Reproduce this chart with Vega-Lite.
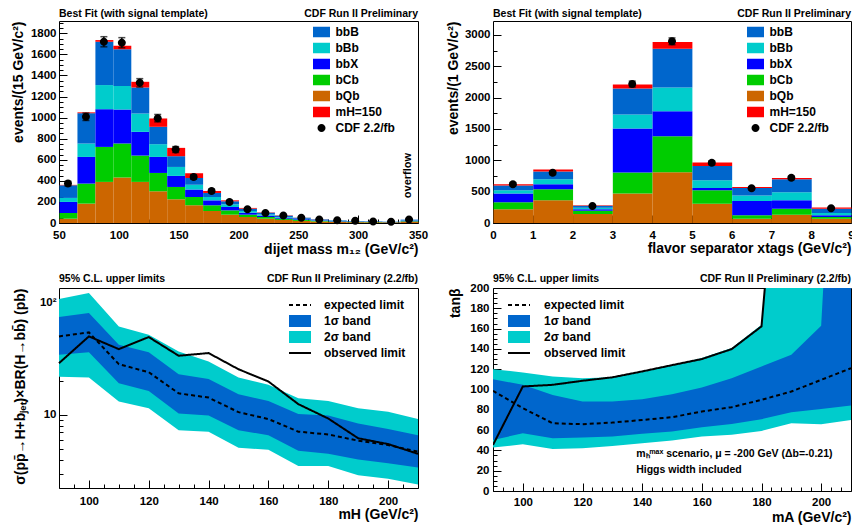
{
  "$schema": "https://vega.github.io/schema/vega-lite/v6.json",
  "padding": {"left": 10, "top": 8, "right": 0, "bottom": 0},
  "background": "white",
  "columns": 2,
  "spacing": {"row": 65, "column": 75},
  "bounds": "flush",
  "resolve": {"scale": {"color": "independent", "shape": "independent", "strokeDash": "independent"}, "legend": {"color": "independent", "shape": "independent", "strokeDash": "independent"}},
  "datasets": {
    "histA": [
      {"lo":50,"hi":65,"comp":"bQb","v":41},{"lo":50,"hi":65,"comp":"bCb","v":54},{"lo":50,"hi":65,"comp":"bbX","v":105},{"lo":50,"hi":65,"comp":"bBb","v":38},{"lo":50,"hi":65,"comp":"bbB","v":120},{"lo":50,"hi":65,"comp":"mH=150","v":4},
      {"lo":65,"hi":80,"comp":"bQb","v":184},{"lo":65,"hi":80,"comp":"bCb","v":190},{"lo":65,"hi":80,"comp":"bbX","v":253},{"lo":65,"hi":80,"comp":"bBb","v":127},{"lo":65,"hi":80,"comp":"bbB","v":288},{"lo":65,"hi":80,"comp":"mH=150","v":8},
      {"lo":80,"hi":95,"comp":"bQb","v":390},{"lo":80,"hi":95,"comp":"bCb","v":332},{"lo":80,"hi":95,"comp":"bbX","v":358},{"lo":80,"hi":95,"comp":"bBb","v":229},{"lo":80,"hi":95,"comp":"bbB","v":411},{"lo":80,"hi":95,"comp":"mH=150","v":16},
      {"lo":95,"hi":110,"comp":"bQb","v":431},{"lo":95,"hi":110,"comp":"bCb","v":323},{"lo":95,"hi":110,"comp":"bbX","v":323},{"lo":95,"hi":110,"comp":"bBb","v":222},{"lo":95,"hi":110,"comp":"bbB","v":349},{"lo":95,"hi":110,"comp":"mH=150","v":35},
      {"lo":110,"hi":125,"comp":"bQb","v":390},{"lo":110,"hi":125,"comp":"bCb","v":250},{"lo":110,"hi":125,"comp":"bbX","v":225},{"lo":110,"hi":125,"comp":"bBb","v":174},{"lo":110,"hi":125,"comp":"bbB","v":247},{"lo":110,"hi":125,"comp":"mH=150","v":54},
      {"lo":125,"hi":140,"comp":"bQb","v":301},{"lo":125,"hi":140,"comp":"bCb","v":174},{"lo":125,"hi":140,"comp":"bbX","v":152},{"lo":125,"hi":140,"comp":"bBb","v":121},{"lo":125,"hi":140,"comp":"bbB","v":165},{"lo":125,"hi":140,"comp":"mH=150","v":79},
      {"lo":140,"hi":155,"comp":"bQb","v":225},{"lo":140,"hi":155,"comp":"bCb","v":117},{"lo":140,"hi":155,"comp":"bbX","v":105},{"lo":140,"hi":155,"comp":"bBb","v":85},{"lo":140,"hi":155,"comp":"bbB","v":102},{"lo":140,"hi":155,"comp":"mH=150","v":79},
      {"lo":155,"hi":170,"comp":"bQb","v":168},{"lo":155,"hi":170,"comp":"bCb","v":79},{"lo":155,"hi":170,"comp":"bbX","v":70},{"lo":155,"hi":170,"comp":"bBb","v":47},{"lo":155,"hi":170,"comp":"bbB","v":64},{"lo":155,"hi":170,"comp":"mH=150","v":44},
      {"lo":170,"hi":185,"comp":"bQb","v":114},{"lo":170,"hi":185,"comp":"bCb","v":54},{"lo":170,"hi":185,"comp":"bbX","v":47},{"lo":170,"hi":185,"comp":"bBb","v":32},{"lo":170,"hi":185,"comp":"bbB","v":38},{"lo":170,"hi":185,"comp":"mH=150","v":19},
      {"lo":185,"hi":200,"comp":"bQb","v":79},{"lo":185,"hi":200,"comp":"bCb","v":41},{"lo":185,"hi":200,"comp":"bbX","v":32},{"lo":185,"hi":200,"comp":"bBb","v":25},{"lo":185,"hi":200,"comp":"bbB","v":29},{"lo":185,"hi":200,"comp":"mH=150","v":9},
      {"lo":200,"hi":215,"comp":"bQb","v":57},{"lo":200,"hi":215,"comp":"bCb","v":22},{"lo":200,"hi":215,"comp":"bbX","v":19},{"lo":200,"hi":215,"comp":"bBb","v":16},{"lo":200,"hi":215,"comp":"bbB","v":22},{"lo":200,"hi":215,"comp":"mH=150","v":7},
      {"lo":215,"hi":230,"comp":"bQb","v":41},{"lo":215,"hi":230,"comp":"bCb","v":16},{"lo":215,"hi":230,"comp":"bbX","v":13},{"lo":215,"hi":230,"comp":"bBb","v":12},{"lo":215,"hi":230,"comp":"bbB","v":16},{"lo":215,"hi":230,"comp":"mH=150","v":3},
      {"lo":230,"hi":245,"comp":"bQb","v":29},{"lo":230,"hi":245,"comp":"bCb","v":12},{"lo":230,"hi":245,"comp":"bbX","v":10},{"lo":230,"hi":245,"comp":"bBb","v":6},{"lo":230,"hi":245,"comp":"bbB","v":13},{"lo":230,"hi":245,"comp":"mH=150","v":3},
      {"lo":245,"hi":260,"comp":"bQb","v":20},{"lo":245,"hi":260,"comp":"bCb","v":9},{"lo":245,"hi":260,"comp":"bbX","v":7},{"lo":245,"hi":260,"comp":"bBb","v":4},{"lo":245,"hi":260,"comp":"bbB","v":10},{"lo":245,"hi":260,"comp":"mH=150","v":1},
      {"lo":260,"hi":275,"comp":"bQb","v":14},{"lo":260,"hi":275,"comp":"bCb","v":6},{"lo":260,"hi":275,"comp":"bbX","v":5},{"lo":260,"hi":275,"comp":"bBb","v":3},{"lo":260,"hi":275,"comp":"bbB","v":6},{"lo":260,"hi":275,"comp":"mH=150","v":1},
      {"lo":275,"hi":290,"comp":"bQb","v":10},{"lo":275,"hi":290,"comp":"bCb","v":4},{"lo":275,"hi":290,"comp":"bbX","v":4},{"lo":275,"hi":290,"comp":"bBb","v":2},{"lo":275,"hi":290,"comp":"bbB","v":5},{"lo":275,"hi":290,"comp":"mH=150","v":0},
      {"lo":290,"hi":305,"comp":"bQb","v":8},{"lo":290,"hi":305,"comp":"bCb","v":3},{"lo":290,"hi":305,"comp":"bbX","v":3},{"lo":290,"hi":305,"comp":"bBb","v":2},{"lo":290,"hi":305,"comp":"bbB","v":3},{"lo":290,"hi":305,"comp":"mH=150","v":0},
      {"lo":305,"hi":320,"comp":"bQb","v":7},{"lo":305,"hi":320,"comp":"bCb","v":3},{"lo":305,"hi":320,"comp":"bbX","v":2},{"lo":305,"hi":320,"comp":"bBb","v":1},{"lo":305,"hi":320,"comp":"bbB","v":3},{"lo":305,"hi":320,"comp":"mH=150","v":0},
      {"lo":320,"hi":335,"comp":"bQb","v":6},{"lo":320,"hi":335,"comp":"bCb","v":2},{"lo":320,"hi":335,"comp":"bbX","v":2},{"lo":320,"hi":335,"comp":"bBb","v":1},{"lo":320,"hi":335,"comp":"bbB","v":2},{"lo":320,"hi":335,"comp":"mH=150","v":0},
      {"lo":335,"hi":350,"comp":"bQb","v":12},{"lo":335,"hi":350,"comp":"bCb","v":5},{"lo":335,"hi":350,"comp":"bbX","v":5},{"lo":335,"hi":350,"comp":"bBb","v":3},{"lo":335,"hi":350,"comp":"bbB","v":7},{"lo":335,"hi":350,"comp":"mH=150","v":0}
    ],
    "ptsA": [
      {"c":57.5,"n":374,"e":22},{"c":72.5,"n":1008,"e":35},{"c":87.5,"n":1720,"e":48},{"c":102.5,"n":1711,"e":48},{"c":117.5,"n":1330,"e":40},
      {"c":132.5,"n":995,"e":35},{"c":147.5,"n":697,"e":28},{"c":162.5,"n":437,"e":22},{"c":177.5,"n":304,"e":18},{"c":192.5,"n":200,"e":15},
      {"c":207.5,"n":130,"e":12},{"c":222.5,"n":95,"e":10},{"c":237.5,"n":70,"e":9},{"c":252.5,"n":50,"e":7},{"c":267.5,"n":33,"e":6},
      {"c":282.5,"n":27,"e":5},{"c":297.5,"n":22,"e":5},{"c":312.5,"n":15,"e":4},{"c":327.5,"n":12,"e":4},{"c":342.5,"n":33,"e":6}
    ],
    "histB": [
      {"lo":0,"hi":1,"comp":"bQb","v":218},{"lo":0,"hi":1,"comp":"bCb","v":112},{"lo":0,"hi":1,"comp":"bbX","v":139},{"lo":0,"hi":1,"comp":"bBb","v":53},{"lo":0,"hi":1,"comp":"bbB","v":75},{"lo":0,"hi":1,"comp":"mH=150","v":21},
      {"lo":1,"hi":2,"comp":"bQb","v":362},{"lo":1,"hi":2,"comp":"bCb","v":176},{"lo":1,"hi":2,"comp":"bbX","v":80},{"lo":1,"hi":2,"comp":"bBb","v":80},{"lo":1,"hi":2,"comp":"bbB","v":123},{"lo":1,"hi":2,"comp":"mH=150","v":32},
      {"lo":2,"hi":3,"comp":"bQb","v":144},{"lo":2,"hi":3,"comp":"bCb","v":53},{"lo":2,"hi":3,"comp":"bbX","v":21},{"lo":2,"hi":3,"comp":"bBb","v":27},{"lo":2,"hi":3,"comp":"bbB","v":30},{"lo":2,"hi":3,"comp":"mH=150","v":10},
      {"lo":3,"hi":4,"comp":"bQb","v":469},{"lo":3,"hi":4,"comp":"bCb","v":336},{"lo":3,"hi":4,"comp":"bbX","v":703},{"lo":3,"hi":4,"comp":"bBb","v":224},{"lo":3,"hi":4,"comp":"bbB","v":415},{"lo":3,"hi":4,"comp":"mH=150","v":64},
      {"lo":4,"hi":5,"comp":"bQb","v":810},{"lo":4,"hi":5,"comp":"bCb","v":575},{"lo":4,"hi":5,"comp":"bbX","v":400},{"lo":4,"hi":5,"comp":"bBb","v":378},{"lo":4,"hi":5,"comp":"bbB","v":618},{"lo":4,"hi":5,"comp":"mH=150","v":107},
      {"lo":5,"hi":6,"comp":"bQb","v":309},{"lo":5,"hi":6,"comp":"bCb","v":213},{"lo":5,"hi":6,"comp":"bbX","v":37},{"lo":5,"hi":6,"comp":"bBb","v":123},{"lo":5,"hi":6,"comp":"bbB","v":229},{"lo":5,"hi":6,"comp":"mH=150","v":53},
      {"lo":6,"hi":7,"comp":"bQb","v":69},{"lo":6,"hi":7,"comp":"bCb","v":54},{"lo":6,"hi":7,"comp":"bbX","v":229},{"lo":6,"hi":7,"comp":"bBb","v":85},{"lo":6,"hi":7,"comp":"bbB","v":122},{"lo":6,"hi":7,"comp":"mH=150","v":16},
      {"lo":7,"hi":8,"comp":"bQb","v":133},{"lo":7,"hi":8,"comp":"bCb","v":96},{"lo":7,"hi":8,"comp":"bbX","v":133},{"lo":7,"hi":8,"comp":"bBb","v":128},{"lo":7,"hi":8,"comp":"bbB","v":208},{"lo":7,"hi":8,"comp":"mH=150","v":21},
      {"lo":8,"hi":9,"comp":"bQb","v":69},{"lo":8,"hi":9,"comp":"bCb","v":27},{"lo":8,"hi":9,"comp":"bbX","v":27},{"lo":8,"hi":9,"comp":"bBb","v":37},{"lo":8,"hi":9,"comp":"bbB","v":69},{"lo":8,"hi":9,"comp":"mH=150","v":20}
    ],
    "ptsB": [
      {"c":0.5,"n":620,"e":25},{"c":1.5,"n":800,"e":28},{"c":2.5,"n":272,"e":17},{"c":3.5,"n":2217,"e":47},{"c":4.5,"n":2899,"e":54},
      {"c":5.5,"n":960,"e":31},{"c":6.5,"n":555,"e":24},{"c":7.5,"n":720,"e":27},{"c":8.5,"n":235,"e":15}
    ],
    "limC": [
      {"m":90,"lo2":22.0,"lo1":34.5,"exp":50.3,"hi1":74.9,"hi2":108.6,"obs":29.0},
      {"m":100,"lo2":21.6,"lo1":36.4,"exp":54.6,"hi1":81.4,"hi2":122.9,"obs":50.3},
      {"m":110,"lo2":13.2,"lo1":19.2,"exp":28.4,"hi1":42.4,"hi2":61.8,"obs":38.7},
      {"m":120,"lo2":11.5,"lo1":16.4,"exp":24.1,"hi1":36.4,"hi2":52.1,"obs":49.6},
      {"m":130,"lo2":7.3,"lo1":10.3,"exp":15.6,"hi1":23.1,"hi2":36.9,"obs":33.8},
      {"m":140,"lo2":7.1,"lo1":9.9,"exp":14.3,"hi1":20.9,"hi2":30.1,"obs":35.7},
      {"m":150,"lo2":5.1,"lo1":7.3,"exp":10.6,"hi1":15.3,"hi2":21.6,"obs":25.6},
      {"m":160,"lo2":4.9,"lo1":6.6,"exp":9.2,"hi1":13.3,"hi2":18.6,"obs":19.9},
      {"m":170,"lo2":3.5,"lo1":4.8,"exp":7.1,"hi1":10.2,"hi2":14.1,"obs":12.5},
      {"m":180,"lo2":3.5,"lo1":4.5,"exp":6.7,"hi1":9.9,"hi2":13.3,"obs":9.3},
      {"m":190,"lo2":2.9,"lo1":4.0,"exp":5.9,"hi1":8.4,"hi2":11.5,"obs":6.2},
      {"m":200,"lo2":2.7,"lo1":3.7,"exp":5.4,"hi1":7.5,"hi2":10.7,"obs":5.5},
      {"m":210,"lo2":2.4,"lo1":3.4,"exp":4.7,"hi1":6.6,"hi2":9.2,"obs":4.5}
    ],
    "limD": [
      {"m":90,"lo2":42.8,"lo1":50.3,"exp":98.7,"hi1":110,"hi2":120},
      {"m":100,"lo2":46,"lo1":56.9,"exp":81.6,"hi1":104.6,"hi2":116.8},
      {"m":110,"lo2":41.4,"lo1":52,"exp":66.8,"hi1":94.7,"hi2":112.8},
      {"m":120,"lo2":42.1,"lo1":52.6,"exp":65.8,"hi1":88.2,"hi2":111},
      {"m":130,"lo2":44.4,"lo1":53.6,"exp":67.4,"hi1":88.2,"hi2":112},
      {"m":140,"lo2":47,"lo1":56.3,"exp":70,"hi1":90.5,"hi2":117.8},
      {"m":150,"lo2":49.7,"lo1":58.6,"exp":72.7,"hi1":95.4,"hi2":124},
      {"m":160,"lo2":53.6,"lo1":62.8,"exp":78.3,"hi1":102,"hi2":131},
      {"m":170,"lo2":55.3,"lo1":66,"exp":82.6,"hi1":111,"hi2":140.8},
      {"m":180,"lo2":59.2,"lo1":70.7,"exp":89.8,"hi1":122.7,"hi2":163.8},
      {"m":190,"lo2":66.8,"lo1":77.6,"exp":98,"hi1":134.2,"hi2":500},
      {"m":200,"lo2":65.8,"lo1":80.9,"exp":109.5,"hi1":162.8,"hi2":500},
      {"m":210,"lo2":70,"lo1":84.2,"exp":121,"hi1":700,"hi2":500}
    ],
    "obsD": [
      {"m":90,"obs":45.4},{"m":100,"obs":103},{"m":110,"obs":104.6},{"m":120,"obs":108.6},{"m":130,"obs":112},
      {"m":140,"obs":117.8},{"m":150,"obs":124},{"m":160,"obs":130},{"m":170,"obs":139.8},{"m":180,"obs":162.2},{"m":190,"obs":500}
    ]
  },
  "concat": [
    {
      "width": 359, "height": 202,
      "layer": [
        {
          "data": {"name": "histA"},
          "transform": [{"calculate": "indexof(['bQb','bCb','bbX','bBb','bbB','mH=150'], datum.comp)", "as": "so"}],
          "mark": {"type": "bar", "opacity": 1, "binSpacing": 0},
          "encoding": {
            "x": {"field": "lo", "type": "quantitative", "bin": "binned", "scale": {"domain": [50, 350], "nice": false, "zero": false},
              "axis": {"values": [50,58.333,66.667,75,83.333,91.667,100,108.333,116.667,125,133.333,141.667,150,158.333,166.667,175,183.333,191.667,200,208.333,216.667,225,233.333,241.667,250,258.333,266.667,275,283.333,291.667,300,308.333,316.667,325,333.333,341.667,350],
                "tickCount": 1000, "format": "d", "labelExpr": "datum.value % 50 === 0 ? datum.label : ''", "labelOverlap": false, "labelFlush": false,
                "tickSize": {"condition": {"test": "datum.value % 50 === 0", "value": -8}, "value": -4},
                "labelPadding": 14, "title": "dijet mass m₁₂ (GeV/c²)", "titleX": 359, "titleY": 30, "titleAlign": "right", "titleBaseline": "alphabetic", "titleAngle": 0}},
            "x2": {"field": "hi"},
            "y": {"field": "v", "type": "quantitative", "stack": "zero", "scale": {"domain": [0, 1917], "nice": false},
              "axis": {"values": [0,50,100,150,200,250,300,350,400,450,500,550,600,650,700,750,800,850,900,950,1000,1050,1100,1150,1200,1250,1300,1350,1400,1450,1500,1550,1600,1650,1700,1750,1800,1850,1900],
                "tickCount": 1000, "format": "d", "labelExpr": "datum.value % 200 === 0 ? datum.label : ''", "labelOverlap": false, "labelFlush": false,
                "tickSize": {"condition": {"test": "datum.value % 200 === 0", "value": -8}, "value": -4},
                "labelPadding": 11, "title": "events/(15 GeV/c²)", "titleX": -48, "titleY": 0, "titleAngle": 270, "titleAlign": "right", "titleBaseline": "top"}},
            "color": {"field": "comp", "type": "nominal",
              "scale": {"domain": ["bbB","bBb","bbX","bCb","bQb","mH=150"], "range": ["#0066cc","#00cccc","#0000ff","#00cc00","#cc6600","#ff0000"]},
              "legend": {"orient": "none", "legendX": 256.5, "legendY": 5, "title": null, "padding": 0, "symbolType": "M-1.7,-1.05H1.7V1.05H-1.7Z", "symbolSize": 100, "symbolStrokeWidth": 0, "symbolOpacity": 1, "rowPadding": 4, "labelOffset": 8, "labelFontSize": 12, "labelFontWeight": "bold", "labelColor": "#000000"}},
            "order": {"field": "so", "type": "quantitative", "sort": "ascending"}
          }
        },
        {
          "data": {"name": "ptsA"},
          "mark": {"type": "errorbar", "ticks": {"size": 7}, "color": "#000000", "thickness": 1.5},
          "encoding": {
            "x": {"field": "c", "type": "quantitative", "title": "dijet mass m₁₂ (GeV/c²)"},
            "y": {"field": "n", "type": "quantitative", "title": "events/(15 GeV/c²)"},
            "yError": {"field": "e"}
          }
        },
        {
          "data": {"name": "ptsA"},
          "mark": {"type": "point", "filled": true, "size": 100, "opacity": 1, "color": "#000000"},
          "encoding": {
            "x": {"field": "c", "type": "quantitative", "title": "dijet mass m₁₂ (GeV/c²)"},
            "y": {"field": "n", "type": "quantitative", "title": "events/(15 GeV/c²)"},
            "shape": {"datum": "CDF 2.2/fb", "type": "nominal", "scale": {"domain": ["CDF 2.2/fb"], "range": ["M-0.8,0A0.8,0.8 0 1,0 0.8,0A0.8,0.8 0 1,0 -0.8,0Z"]},
              "legend": {"orient": "none", "legendX": 256.5, "legendY": 101, "title": null, "padding": 0, "symbolSize": 100, "symbolFillColor": "#000000", "symbolStrokeWidth": 0, "symbolOpacity": 1, "labelOffset": 8, "labelFontSize": 12, "labelFontWeight": "bold", "labelColor": "#000000"}}
          }
        },
        {
          "data": {"values": [{}]},
          "mark": {"type": "text", "text": "Best Fit (with signal template)", "align": "left", "baseline": "alphabetic", "dy": -4.5, "fontSize": 10.5, "fontWeight": "bold", "color": "#000000"},
          "encoding": {"x": {"datum": 50, "type": "quantitative"}, "y": {"datum": 1917, "type": "quantitative"}}
        },
        {
          "data": {"values": [{}]},
          "mark": {"type": "text", "text": "CDF Run II Preliminary", "align": "right", "baseline": "alphabetic", "dy": -4.5, "fontSize": 10.5, "fontWeight": "bold", "color": "#000000"},
          "encoding": {"x": {"datum": 350, "type": "quantitative"}, "y": {"datum": 1917, "type": "quantitative"}}
        },
        {
          "data": {"values": [{}]},
          "mark": {"type": "text", "text": "overflow", "angle": 270, "align": "center", "baseline": "middle", "fontSize": 11, "fontWeight": "bold", "color": "#000000"},
          "encoding": {"x": {"datum": 342, "type": "quantitative"}, "y": {"datum": 450, "type": "quantitative"}}
        }
      ]
    },
    {
      "width": 358, "height": 202,
      "layer": [
        {
          "data": {"name": "histB"},
          "transform": [{"calculate": "indexof(['bQb','bCb','bbX','bBb','bbB','mH=150'], datum.comp)", "as": "so"}],
          "mark": {"type": "bar", "opacity": 1, "binSpacing": 0},
          "encoding": {
            "x": {"field": "lo", "type": "quantitative", "bin": "binned", "scale": {"domain": [0, 9], "nice": false, "zero": false},
              "axis": {"values": [0,0.2,0.4,0.6,0.8,1,1.2,1.4,1.6,1.8,2,2.2,2.4,2.6,2.8,3,3.2,3.4,3.6,3.8,4,4.2,4.4,4.6,4.8,5,5.2,5.4,5.6,5.8,6,6.2,6.4,6.6,6.8,7,7.2,7.4,7.6,7.8,8,8.2,8.4,8.6,8.8,9],
                "tickCount": 1000, "labelExpr": "abs(datum.value - round(datum.value)) < 0.01 ? format(round(datum.value), 'd') : ''", "labelOverlap": false, "labelFlush": false, "labelBound": false,
                "tickSize": {"condition": {"test": "abs(datum.value - round(datum.value)) < 0.01", "value": -8}, "value": -4},
                "labelPadding": 14, "title": "flavor separator xtags (GeV/c²)", "titleX": 358, "titleY": 29, "titleAlign": "right", "titleBaseline": "alphabetic", "titleAngle": 0}},
            "x2": {"field": "hi"},
            "y": {"field": "v", "type": "quantitative", "stack": "zero", "scale": {"domain": [0, 3223], "nice": false},
              "axis": {"values": [0,250,500,750,1000,1250,1500,1750,2000,2250,2500,2750,3000],
                "tickCount": 1000, "format": "d", "labelExpr": "datum.value % 500 === 0 ? datum.label : ''", "labelOverlap": false, "labelFlush": false,
                "tickSize": {"condition": {"test": "datum.value % 500 === 0", "value": -8}, "value": -4},
                "labelPadding": 11, "title": "events/(1 GeV/c²)", "titleX": -47, "titleY": 0, "titleAngle": 270, "titleAlign": "right", "titleBaseline": "top"}},
            "color": {"field": "comp", "type": "nominal",
              "scale": {"domain": ["bbB","bBb","bbX","bCb","bQb","mH=150"], "range": ["#0066cc","#00cccc","#0000ff","#00cc00","#cc6600","#ff0000"]},
              "legend": {"orient": "none", "legendX": 256.5, "legendY": 5, "title": null, "padding": 0, "symbolType": "M-1.7,-1.05H1.7V1.05H-1.7Z", "symbolSize": 100, "symbolStrokeWidth": 0, "symbolOpacity": 1, "rowPadding": 4, "labelOffset": 8, "labelFontSize": 12, "labelFontWeight": "bold", "labelColor": "#000000"}},
            "order": {"field": "so", "type": "quantitative", "sort": "ascending"}
          }
        },
        {
          "data": {"name": "ptsB"},
          "mark": {"type": "errorbar", "ticks": {"size": 7}, "color": "#000000", "thickness": 1.5},
          "encoding": {
            "x": {"field": "c", "type": "quantitative", "title": "flavor separator xtags (GeV/c²)"},
            "y": {"field": "n", "type": "quantitative", "title": "events/(1 GeV/c²)"},
            "yError": {"field": "e"}
          }
        },
        {
          "data": {"name": "ptsB"},
          "mark": {"type": "point", "filled": true, "size": 100, "opacity": 1, "color": "#000000"},
          "encoding": {
            "x": {"field": "c", "type": "quantitative", "title": "flavor separator xtags (GeV/c²)"},
            "y": {"field": "n", "type": "quantitative", "title": "events/(1 GeV/c²)"},
            "shape": {"datum": "CDF 2.2/fb", "type": "nominal", "scale": {"domain": ["CDF 2.2/fb"], "range": ["M-0.8,0A0.8,0.8 0 1,0 0.8,0A0.8,0.8 0 1,0 -0.8,0Z"]},
              "legend": {"orient": "none", "legendX": 256.5, "legendY": 101, "title": null, "padding": 0, "symbolSize": 100, "symbolFillColor": "#000000", "symbolStrokeWidth": 0, "symbolOpacity": 1, "labelOffset": 8, "labelFontSize": 12, "labelFontWeight": "bold", "labelColor": "#000000"}}
          }
        },
        {
          "data": {"values": [{}]},
          "mark": {"type": "text", "text": "Best Fit (with signal template)", "align": "left", "baseline": "alphabetic", "dy": -4.5, "fontSize": 10.5, "fontWeight": "bold", "color": "#000000"},
          "encoding": {"x": {"datum": 0, "type": "quantitative"}, "y": {"datum": 3223, "type": "quantitative"}}
        },
        {
          "data": {"values": [{}]},
          "mark": {"type": "text", "text": "CDF Run II Preliminary", "align": "right", "baseline": "alphabetic", "dy": -4.5, "fontSize": 10.5, "fontWeight": "bold", "color": "#000000"},
          "encoding": {"x": {"datum": 9, "type": "quantitative"}, "y": {"datum": 3223, "type": "quantitative"}}
        }
      ]
    },
    {
      "width": 359, "height": 200,
      "resolve": {"scale": {"strokeDash": "independent"}, "legend": {"strokeDash": "independent"}},
      "layer": [
        {
          "data": {"name": "limC"},
          "mark": {"type": "area", "opacity": 1},
          "encoding": {
            "x": {"field": "m", "type": "quantitative", "scale": {"domain": [90, 210], "nice": false, "zero": false},
              "axis": {"values": [90,95,100,105,110,115,120,125,130,135,140,145,150,155,160,165,170,175,180,185,190,195,200,205,210],
                "tickCount": 1000, "format": "d", "labelExpr": "datum.value % 20 === 0 ? datum.label : ''", "labelOverlap": false, "labelFlush": false,
                "tickSize": {"condition": {"test": "datum.value % 20 === 0", "value": -8}, "value": -4},
                "labelPadding": 15, "title": "mH (GeV/c²)", "titleX": 359, "titleY": 30, "titleAlign": "right", "titleBaseline": "alphabetic", "titleAngle": 0}},
            "y": {"field": "lo2", "type": "quantitative", "scale": {"type": "log", "domain": [2.23, 136], "nice": false},
              "axis": {"values": [3,4,5,6,7,8,9,10,20,30,40,50,60,70,80,90,100],
                "tickCount": 1000, "labelExpr": "datum.value === 100 ? '10²' : datum.value === 10 ? '10' : ''", "labelOverlap": false, "labelFlush": false,
                "tickSize": {"condition": {"test": "datum.value === 10 || datum.value === 100", "value": -8}, "value": -4},
                "labelPadding": 11, "title": "σ(pp\u0304→H+b\u2c7c\u2091\u209c)×BR(H→bb\u0304) (pb)", "titleX": -46, "titleY": 0, "titleAngle": 270, "titleAlign": "right", "titleBaseline": "top"}},
            "y2": {"field": "hi2"},
            "color": {"datum": "2σ band", "type": "nominal",
              "scale": {"domain": ["1σ band","2σ band"], "range": ["#0066cc","#00cccc"]},
              "legend": {"orient": "none", "legendX": 235, "legendY": 27, "title": null, "padding": 0, "symbolType": "M-2.2,-1.2H2.2V1.2H-2.2Z", "symbolSize": 100, "symbolStrokeWidth": 0, "symbolOpacity": 1, "rowPadding": 4, "labelOffset": 18, "labelFontSize": 12, "labelFontWeight": "bold", "labelColor": "#000000"}}
          }
        },
        {
          "data": {"name": "limC"},
          "mark": {"type": "area", "opacity": 1},
          "encoding": {
            "x": {"field": "m", "type": "quantitative"},
            "y": {"field": "lo1", "type": "quantitative"},
            "y2": {"field": "hi1"},
            "color": {"datum": "1σ band", "type": "nominal"}
          }
        },
        {
          "data": {"name": "limC"},
          "mark": {"type": "line", "strokeWidth": 2, "color": "#000000"},
          "encoding": {
            "x": {"field": "m", "type": "quantitative"},
            "y": {"field": "exp", "type": "quantitative"},
            "strokeDash": {"datum": "expected limit", "type": "nominal", "scale": {"domain": ["expected limit"], "range": [[4, 3]]},
              "legend": {"orient": "none", "legendX": 235, "legendY": 11, "title": null, "padding": 0, "symbolType": "M-2.2,0H2.2", "symbolSize": 100, "symbolStrokeWidth": 2, "symbolStrokeColor": "#000000", "symbolOpacity": 1, "labelOffset": 18, "labelFontSize": 12, "labelFontWeight": "bold", "labelColor": "#000000"}}
          }
        },
        {
          "data": {"name": "limC"},
          "mark": {"type": "line", "strokeWidth": 2, "color": "#000000"},
          "encoding": {
            "x": {"field": "m", "type": "quantitative"},
            "y": {"field": "obs", "type": "quantitative"},
            "strokeDash": {"datum": "observed limit", "type": "nominal", "scale": {"domain": ["observed limit"], "range": [[1, 0]]},
              "legend": {"orient": "none", "legendX": 235, "legendY": 59, "title": null, "padding": 0, "symbolType": "M-2.2,0H2.2", "symbolSize": 100, "symbolStrokeWidth": 2, "symbolStrokeColor": "#000000", "symbolOpacity": 1, "labelOffset": 18, "labelFontSize": 12, "labelFontWeight": "bold", "labelColor": "#000000"}}
          }
        },
        {
          "data": {"values": [{}]},
          "mark": {"type": "text", "text": "95% C.L. upper limits", "align": "left", "baseline": "alphabetic", "dy": -6, "fontSize": 10.5, "fontWeight": "bold", "color": "#000000"},
          "encoding": {"x": {"datum": 90, "type": "quantitative"}, "y": {"datum": 136, "type": "quantitative"}}
        },
        {
          "data": {"values": [{}]},
          "mark": {"type": "text", "text": "CDF Run II Preliminary (2.2/fb)", "align": "right", "baseline": "alphabetic", "dy": -6, "fontSize": 10.5, "fontWeight": "bold", "color": "#000000"},
          "encoding": {"x": {"datum": 210, "type": "quantitative"}, "y": {"datum": 136, "type": "quantitative"}}
        }
      ]
    },
    {
      "width": 358, "height": 203,
      "resolve": {"scale": {"strokeDash": "independent"}, "legend": {"strokeDash": "independent"}},
      "layer": [
        {
          "data": {"name": "limD"},
          "mark": {"type": "area", "opacity": 1, "clip": true},
          "encoding": {
            "x": {"field": "m", "type": "quantitative", "scale": {"domain": [90, 210], "nice": false, "zero": false},
              "axis": {"values": [90,93.333,96.667,100,103.333,106.667,110,113.333,116.667,120,123.333,126.667,130,133.333,136.667,140,143.333,146.667,150,153.333,156.667,160,163.333,166.667,170,173.333,176.667,180,183.333,186.667,190,193.333,196.667,200,203.333,206.667,210],
                "tickCount": 1000, "format": "d", "labelExpr": "datum.value % 20 === 0 ? datum.label : ''", "labelOverlap": false, "labelFlush": false,
                "tickSize": {"condition": {"test": "datum.value % 20 === 0", "value": -8}, "value": -4},
                "labelPadding": 13, "title": "mA (GeV/c²)", "titleX": 358, "titleY": 30, "titleAlign": "right", "titleBaseline": "alphabetic", "titleAngle": 0}},
            "y": {"field": "lo2", "type": "quantitative", "scale": {"domain": [0, 200], "nice": false},
              "axis": {"values": [0,5,10,15,20,25,30,35,40,45,50,55,60,65,70,75,80,85,90,95,100,105,110,115,120,125,130,135,140,145,150,155,160,165,170,175,180,185,190,195,200],
                "tickCount": 1000, "format": "d", "labelExpr": "datum.value % 20 === 0 ? datum.label : ''", "labelOverlap": false, "labelFlush": false,
                "tickSize": {"condition": {"test": "datum.value % 20 === 0", "value": -8}, "value": -4},
                "labelPadding": 12, "title": "tanβ", "titleX": -45, "titleY": 0, "titleAngle": 270, "titleAlign": "right", "titleBaseline": "top"}},
            "y2": {"field": "hi2"},
            "color": {"datum": "2σ band", "type": "nominal",
              "scale": {"domain": ["1σ band","2σ band"], "range": ["#0066cc","#00cccc"]},
              "legend": {"orient": "none", "legendX": 20, "legendY": 27, "title": null, "padding": 0, "symbolType": "M-2.2,-1.2H2.2V1.2H-2.2Z", "symbolSize": 100, "symbolStrokeWidth": 0, "symbolOpacity": 1, "rowPadding": 4, "labelOffset": 19, "labelFontSize": 12, "labelFontWeight": "bold", "labelColor": "#000000"}}
          }
        },
        {
          "data": {"name": "limD"},
          "mark": {"type": "area", "opacity": 1, "clip": true},
          "encoding": {
            "x": {"field": "m", "type": "quantitative"},
            "y": {"field": "lo1", "type": "quantitative"},
            "y2": {"field": "hi1"},
            "color": {"datum": "1σ band", "type": "nominal"}
          }
        },
        {
          "data": {"name": "limD"},
          "mark": {"type": "line", "strokeWidth": 2, "clip": true, "color": "#000000"},
          "encoding": {
            "x": {"field": "m", "type": "quantitative"},
            "y": {"field": "exp", "type": "quantitative"},
            "strokeDash": {"datum": "expected limit", "type": "nominal", "scale": {"domain": ["expected limit"], "range": [[4, 3]]},
              "legend": {"orient": "none", "legendX": 20, "legendY": 11, "title": null, "padding": 0, "symbolType": "M-2.2,0H2.2", "symbolSize": 100, "symbolStrokeWidth": 2, "symbolStrokeColor": "#000000", "symbolOpacity": 1, "labelOffset": 19, "labelFontSize": 12, "labelFontWeight": "bold", "labelColor": "#000000"}}
          }
        },
        {
          "data": {"name": "obsD"},
          "mark": {"type": "line", "strokeWidth": 2, "clip": true, "color": "#000000"},
          "encoding": {
            "x": {"field": "m", "type": "quantitative"},
            "y": {"field": "obs", "type": "quantitative"},
            "strokeDash": {"datum": "observed limit", "type": "nominal", "scale": {"domain": ["observed limit"], "range": [[1, 0]]},
              "legend": {"orient": "none", "legendX": 20, "legendY": 59, "title": null, "padding": 0, "symbolType": "M-2.2,0H2.2", "symbolSize": 100, "symbolStrokeWidth": 2, "symbolStrokeColor": "#000000", "symbolOpacity": 1, "labelOffset": 19, "labelFontSize": 12, "labelFontWeight": "bold", "labelColor": "#000000"}}
          }
        },
        {
          "data": {"values": [{}]},
          "mark": {"type": "text", "text": "95% C.L. upper limits", "align": "left", "baseline": "alphabetic", "dy": -6, "fontSize": 10.5, "fontWeight": "bold", "color": "#000000"},
          "encoding": {"x": {"datum": 90, "type": "quantitative"}, "y": {"datum": 200, "type": "quantitative"}}
        },
        {
          "data": {"values": [{}]},
          "mark": {"type": "text", "text": "CDF Run II Preliminary (2.2/fb)", "align": "right", "baseline": "alphabetic", "dy": -6, "fontSize": 10.5, "fontWeight": "bold", "color": "#000000"},
          "encoding": {"x": {"datum": 210, "type": "quantitative"}, "y": {"datum": 200, "type": "quantitative"}}
        },
        {
          "data": {"values": [{}]},
          "mark": {"type": "text", "text": "mₕᵐᵃˣ scenario, μ = -200 GeV (Δb=-0.21)\nHiggs width included", "lineBreak": "\n", "lineHeight": 16, "align": "left", "baseline": "alphabetic", "fontSize": 10.5, "fontWeight": "bold", "color": "#000000"},
          "encoding": {"x": {"datum": 138, "type": "quantitative"}, "y": {"datum": 33.5, "type": "quantitative"}}
        }
      ]
    }
  ],
  "config": {
    "font": "Liberation Sans",
    "view": {"stroke": "#000000", "strokeWidth": 1},
    "axis": {"grid": false, "domain": false, "labelFont": "Liberation Sans", "labelFontWeight": "bold", "labelFontSize": 11.5, "labelColor": "#000000", "titleFont": "Liberation Sans", "titleFontWeight": "bold", "titleFontSize": 14, "titleColor": "#000000", "tickColor": "#000000", "tickWidth": 1, "labelFlush": false, "labelOverlap": false},
    "legend": {"labelFont": "Liberation Sans"},
    "text": {"font": "Liberation Sans"}
  }
}
